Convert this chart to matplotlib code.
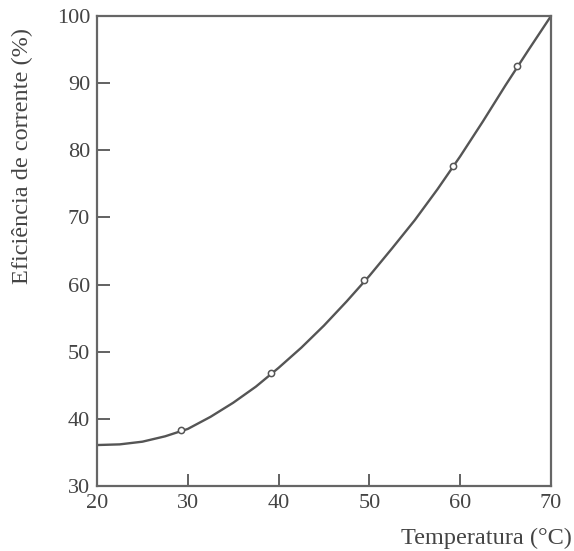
import matplotlib
matplotlib.use("Agg")
import matplotlib.pyplot as plt

# Data
curve_temp = [20, 22.5, 25, 27.5, 30, 32.5, 35, 37.5, 40, 42.5, 45, 47.5,
              50, 52.5, 55, 57.5, 60, 62.5, 65, 67.5, 70]
curve_eff = [36.1, 36.2, 36.6, 37.4, 38.5, 40.3, 42.4, 44.8, 47.6, 50.6, 53.9, 57.5,
             61.3, 65.4, 69.6, 74.2, 79.1, 84.3, 89.7, 94.9, 100.0]
point_temp = [29.2, 39.2, 49.4, 59.25, 66.3]
point_eff = [38.3, 46.9, 60.7, 77.6, 92.6]
x_ticks = [20, 30, 40, 50, 60, 70]
y_ticks = [30, 40, 50, 60, 70, 80, 90, 100]

plt.rcParams['font.family'] = ['Liberation Serif', 'DejaVu Serif']

W, H = 574, 551
fig = plt.figure(figsize=(W / 100, H / 100), dpi=100)
ax = fig.add_axes([97 / W, 1 - 486 / H, (551 - 97) / W, (486 - 16) / H])

col = '#555555'
ax.plot(curve_temp, curve_eff, color=col, lw=1.7, solid_capstyle='round',
        solid_joinstyle='round')
ax.plot(point_temp, point_eff, 'o', ms=4.5, mfc='white', mec=col, mew=1.1)

ax.set_xlim(20, 70)
ax.set_ylim(30, 100)
ax.set_xticks(x_ticks)
ax.set_yticks(y_ticks)
ax.tick_params(direction='in', length=9, width=1.3, color=col,
               labelsize=16, labelcolor='#444444')
ax.tick_params(axis='y', pad=5)
ax.tick_params(axis='x', pad=6)
for s in ax.spines.values():
    s.set_color('#666666')
    s.set_linewidth(1.6)

fig.text(22 / W, 1 - 156 / H, 'Eficiência de corrente (%)', rotation=90,
         ha='center', va='center', fontsize=17.5, color='#444444')
fig.text(572 / W, 1 - 538 / H, 'Temperatura (°C)', ha='right', va='center',
         fontsize=17.5, color='#444444')

fig.savefig('out.png', dpi=100)
